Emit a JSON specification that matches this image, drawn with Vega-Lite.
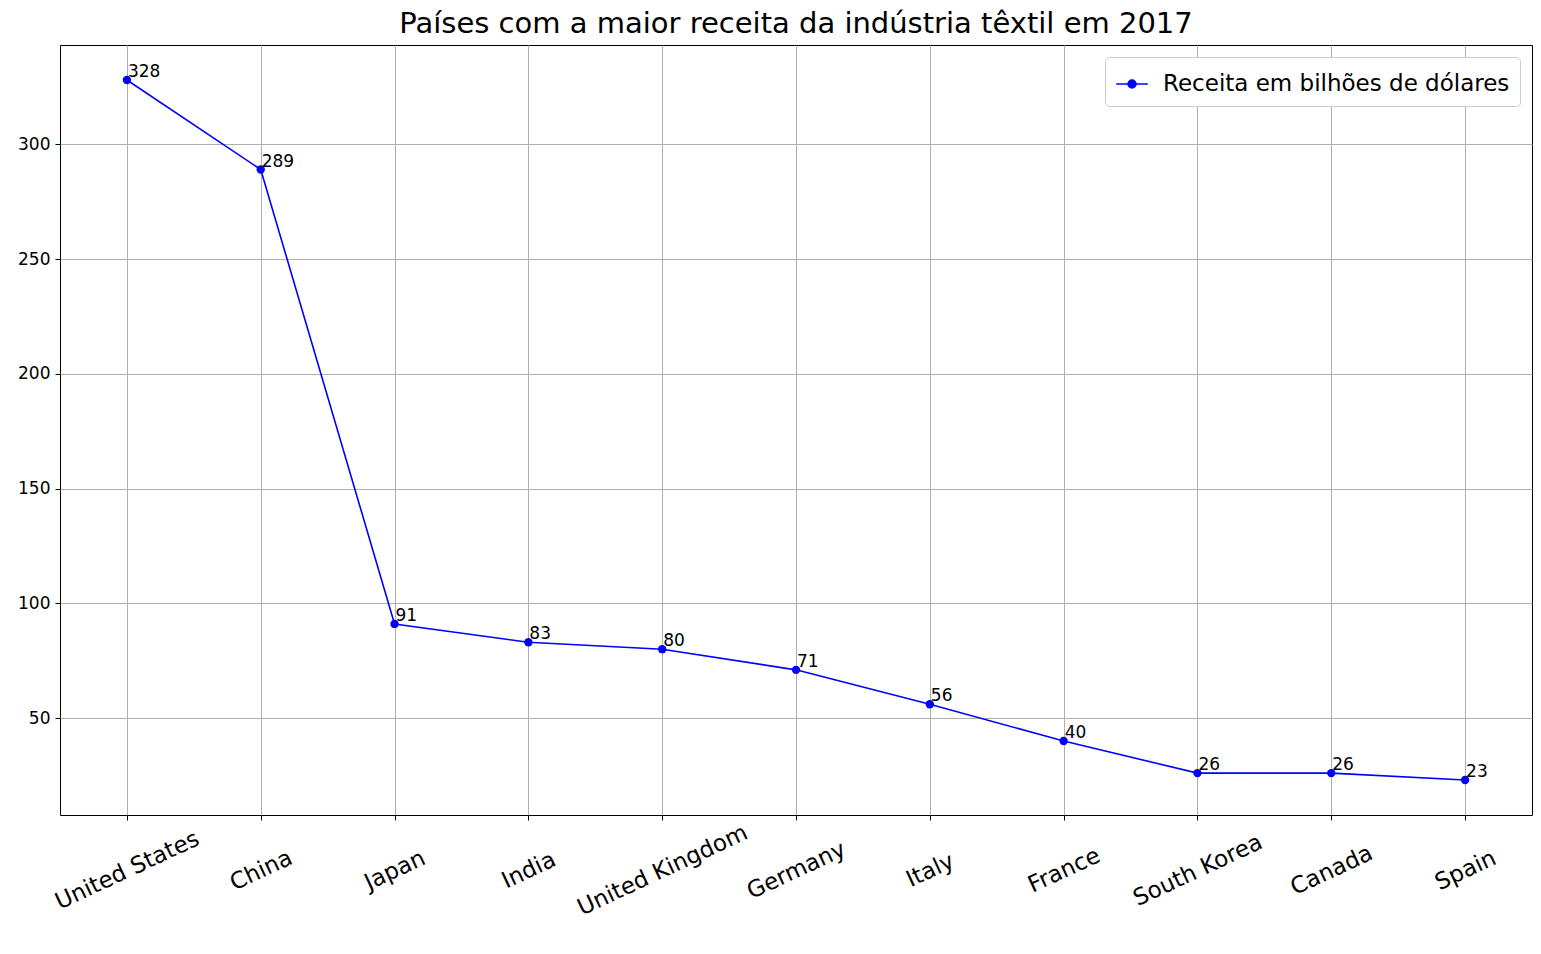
{
  "$schema": "https://vega.github.io/schema/vega-lite/v6.json",
  "width": 1472,
  "height": 770,
  "autosize": {"type": "none"},
  "padding": {"left": 60, "top": 45, "right": 9, "bottom": 139},
  "background": "white",
  "title": {"text": "Países com a maior receita da indústria têxtil em 2017", "fontSize": 29, "font": "DejaVu Sans", "fontWeight": "normal", "offset": 6, "color": "black"},
  "config": {"view": {"stroke": "black", "strokeWidth": 1}, "font": "DejaVu Sans"},
  "data": {"values": [
    {"pais": "United States", "receita": 328, "serie": "Receita em bilhões de dólares"},
    {"pais": "China", "receita": 289, "serie": "Receita em bilhões de dólares"},
    {"pais": "Japan", "receita": 91, "serie": "Receita em bilhões de dólares"},
    {"pais": "India", "receita": 83, "serie": "Receita em bilhões de dólares"},
    {"pais": "United Kingdom", "receita": 80, "serie": "Receita em bilhões de dólares"},
    {"pais": "Germany", "receita": 71, "serie": "Receita em bilhões de dólares"},
    {"pais": "Italy", "receita": 56, "serie": "Receita em bilhões de dólares"},
    {"pais": "France", "receita": 40, "serie": "Receita em bilhões de dólares"},
    {"pais": "South Korea", "receita": 26, "serie": "Receita em bilhões de dólares"},
    {"pais": "Canada", "receita": 26, "serie": "Receita em bilhões de dólares"},
    {"pais": "Spain", "receita": 23, "serie": "Receita em bilhões de dólares"}
  ]},
  "encoding": {
    "x": {"field": "pais", "type": "ordinal", "sort": null,
      "scale": {"type": "point", "padding": 0.5},
      "axis": {"title": null, "labelAngle": -25, "labelAlign": "center", "labelBaseline": "middle", "labelFontSize": 23, "labelColor": "black", "labelPadding": 50, "labelLimit": 400, "tickColor": "black", "tickSize": 5, "domain": false, "grid": true, "gridColor": "#b0b0b0"}},
    "y": {"field": "receita", "type": "quantitative",
      "scale": {"domain": [7.75, 343.25], "nice": false, "zero": false},
      "axis": {"title": null, "values": [50, 100, 150, 200, 250, 300], "labelFontSize": 17, "labelColor": "black", "labelPadding": 5, "tickColor": "black", "tickSize": 5, "domain": false, "grid": true, "gridColor": "#b0b0b0"}}
  },
  "layer": [
    {"mark": {"type": "line", "color": "blue", "strokeWidth": 1.6},
      "encoding": {"color": {"field": "serie", "type": "nominal", "scale": {"range": ["blue"]},
        "legend": {"title": null, "orient": "top-right", "offset": 12, "labelFontSize": 23, "labelLimit": 600, "labelColor": "black", "labelOffset": 14, "symbolType": "M-1,0L1,0M-0.25,0a0.25,0.25 0 1,0 0.5,0a0.25,0.25 0 1,0 -0.5,0", "symbolSize": 1000, "symbolFillColor": "blue", "symbolStrokeColor": "blue", "symbolStrokeWidth": 1.6, "strokeColor": "#cccccc", "fillColor": "white", "padding": 10, "cornerRadius": 4}}}},
    {"mark": {"type": "point", "filled": true, "color": "blue", "size": 70, "opacity": 1}},
    {"mark": {"type": "text", "align": "left", "baseline": "bottom", "dx": 1, "dy": 1, "fontSize": 17, "color": "black"},
      "encoding": {"text": {"field": "receita", "type": "quantitative"}}}
  ]
}
